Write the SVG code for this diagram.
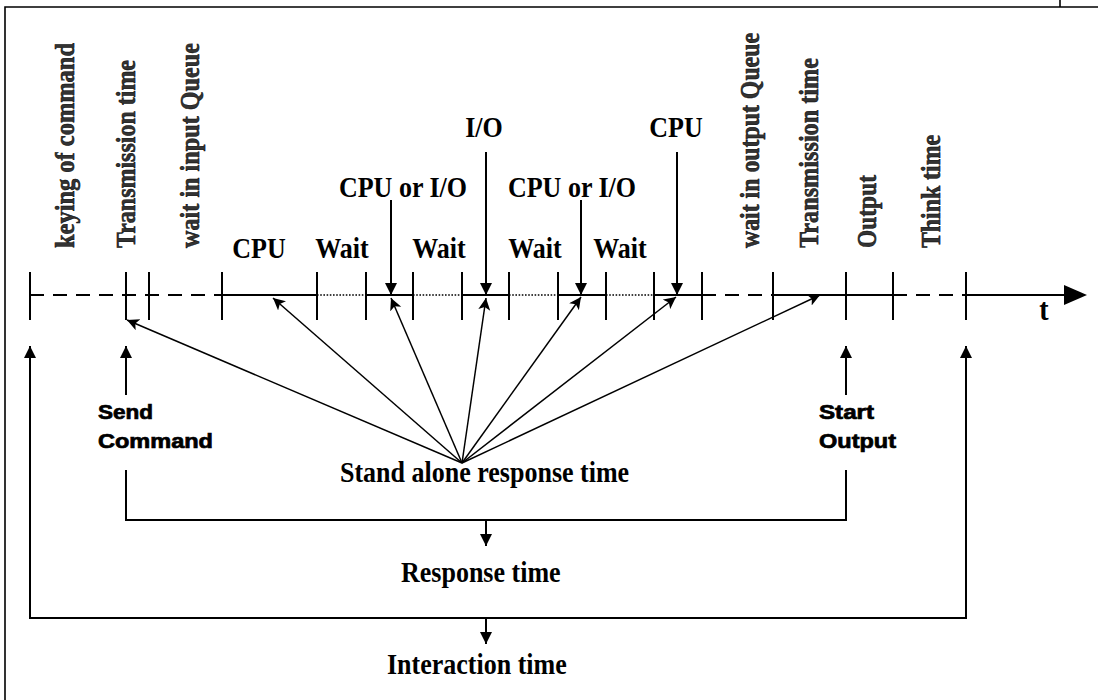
<svg xmlns="http://www.w3.org/2000/svg" width="1098" height="700" viewBox="0 0 1098 700">
<defs>
<style>
.frame{fill:none;stroke:#000;stroke-width:1.6}
.ax{stroke:#000;stroke-width:2;fill:none}
.dash{stroke:#000;stroke-width:2;stroke-dasharray:14 9;fill:none}
.dot{stroke:#000;stroke-width:1.3;stroke-dasharray:1.6 1.6;fill:none}
.tick{stroke:#000;stroke-width:2}
.arr{stroke:#000;stroke-width:2;fill:none;marker-end:url(#ah)}
.fan{stroke:#000;stroke-width:1.5;fill:none;marker-end:url(#fh)}
.br{stroke:#000;stroke-width:2;fill:none}
.lbl{font-family:"Liberation Serif","Times New Roman",serif;font-weight:bold;font-size:26px;fill:#000}
.rot{font-family:"Liberation Serif","Times New Roman",serif;font-weight:bold;font-size:24px;fill:#333;stroke:#000;stroke-width:0.45}
.sans{font-family:"Liberation Sans",Arial,sans-serif;font-weight:bold;font-size:20px;fill:#000;stroke:#000;stroke-width:0.7}
</style>
<marker id="ah" markerUnits="userSpaceOnUse" markerWidth="13" markerHeight="13" refX="12" refY="6" orient="auto">
<path d="M0,0 L12,6 L0,12 z" fill="#000"/>
</marker>
<marker id="fh" markerUnits="userSpaceOnUse" markerWidth="13" markerHeight="13" refX="12" refY="6" orient="auto">
<path d="M0,0 L12,6 L0,12 L3,6 z" fill="#000"/>
</marker>
</defs>
<rect width="1098" height="700" fill="#fff"/>
<g id="frame">
<path class="frame" d="M5,700 V7 H1098"/>
<line class="frame" x1="1060" y1="0" x2="1060" y2="7"/>
</g>
<g id="timeline">
<line class="dash" x1="30" y1="295" x2="222" y2="295"/>
<line class="ax" x1="222" y1="295" x2="317" y2="295"/>
<line class="dot" x1="317" y1="295" x2="366" y2="295"/>
<line class="ax" x1="366" y1="295" x2="413" y2="295"/>
<line class="dot" x1="413" y1="295" x2="462" y2="295"/>
<line class="ax" x1="462" y1="295" x2="509" y2="295"/>
<line class="dot" x1="509" y1="295" x2="558" y2="295"/>
<line class="ax" x1="558" y1="295" x2="606" y2="295"/>
<line class="dot" x1="606" y1="295" x2="654" y2="295"/>
<line class="ax" x1="654" y1="295" x2="702" y2="295"/>
<line class="dash" x1="702" y1="295" x2="773" y2="295"/>
<line class="ax" x1="773" y1="295" x2="893" y2="295"/>
<line class="dash" x1="893" y1="295" x2="966" y2="295"/>
<line class="ax" x1="966" y1="295" x2="1066" y2="295"/>
<polygon points="1064,285 1087,295 1064,305" fill="#000"/>
<g class="tick">
<line x1="30" y1="272" x2="30" y2="320"/>
<line x1="126" y1="272" x2="126" y2="320"/>
<line x1="149" y1="272" x2="149" y2="320"/>
<line x1="222" y1="272" x2="222" y2="320"/>
<line x1="317" y1="272" x2="317" y2="320"/>
<line x1="366" y1="272" x2="366" y2="320"/>
<line x1="413" y1="272" x2="413" y2="320"/>
<line x1="462" y1="272" x2="462" y2="320"/>
<line x1="509" y1="272" x2="509" y2="320"/>
<line x1="558" y1="272" x2="558" y2="320"/>
<line x1="606" y1="272" x2="606" y2="320"/>
<line x1="654" y1="272" x2="654" y2="320"/>
<line x1="702" y1="272" x2="702" y2="320"/>
<line x1="773" y1="272" x2="773" y2="320"/>
<line x1="846" y1="272" x2="846" y2="320"/>
<line x1="893" y1="272" x2="893" y2="320"/>
<line x1="966" y1="272" x2="966" y2="320"/>
</g>
<text class="lbl" transform="translate(1044,320) scale(1,1.1)" text-anchor="middle" style="font-size:28px">t</text>
</g>
<g id="phase-keying"><text class="rot" transform="translate(74,248) rotate(-90) scale(1,1.17)" textLength="205" lengthAdjust="spacingAndGlyphs">keying of command</text></g>
<g id="phase-transmission-in"><text class="rot" transform="translate(135,248) rotate(-90) scale(1,1.17)" textLength="188" lengthAdjust="spacingAndGlyphs">Transmission time</text></g>
<g id="phase-input-queue"><text class="rot" transform="translate(199,248) rotate(-90) scale(1,1.17)" textLength="205" lengthAdjust="spacingAndGlyphs">wait in input Queue</text></g>
<g id="phase-output-queue"><text class="rot" transform="translate(759,248) rotate(-90) scale(1,1.17)" textLength="215" lengthAdjust="spacingAndGlyphs">wait in output Queue</text></g>
<g id="phase-transmission-out"><text class="rot" transform="translate(818,248) rotate(-90) scale(1,1.17)" textLength="190" lengthAdjust="spacingAndGlyphs">Transmission time</text></g>
<g id="phase-output"><text class="rot" transform="translate(876,248) rotate(-90) scale(1,1.17)" textLength="73" lengthAdjust="spacingAndGlyphs">Output</text></g>
<g id="phase-think"><text class="rot" transform="translate(940,248) rotate(-90) scale(1,1.17)" textLength="113" lengthAdjust="spacingAndGlyphs">Think time</text></g>
<g id="seg-cpu1"><text class="lbl" transform="translate(259,258) scale(1,1.1)" text-anchor="middle">CPU</text></g>
<g id="seg-wait1"><text class="lbl" transform="translate(342,258) scale(1,1.1)" text-anchor="middle">Wait</text></g>
<g id="seg-wait2"><text class="lbl" transform="translate(439,258) scale(1,1.1)" text-anchor="middle">Wait</text></g>
<g id="seg-wait3"><text class="lbl" transform="translate(535,258) scale(1,1.1)" text-anchor="middle">Wait</text></g>
<g id="seg-wait4"><text class="lbl" transform="translate(620,258) scale(1,1.1)" text-anchor="middle">Wait</text></g>
<g id="ev-cpuio1"><text class="lbl" transform="translate(403,197) scale(1,1.1)" text-anchor="middle">CPU or I/O</text></g>
<g id="ev-io"><text class="lbl" transform="translate(484,137) scale(1,1.1)" text-anchor="middle">I/O</text></g>
<g id="ev-cpuio2"><text class="lbl" transform="translate(572,197) scale(1,1.1)" text-anchor="middle">CPU or I/O</text></g>
<g id="ev-cpu2"><text class="lbl" transform="translate(676,137) scale(1,1.1)" text-anchor="middle">CPU</text></g>
<g id="send-command">
<text class="sans" x="98" y="419" textLength="55" lengthAdjust="spacingAndGlyphs">Send</text>
<text class="sans" x="98" y="448" textLength="115" lengthAdjust="spacingAndGlyphs">Command</text>
</g>
<g id="start-output">
<text class="sans" x="819" y="419" textLength="55" lengthAdjust="spacingAndGlyphs">Start</text>
<text class="sans" x="819" y="448" textLength="77" lengthAdjust="spacingAndGlyphs">Output</text>
</g>
<g id="stand-alone"><text class="lbl" transform="translate(340,482) scale(1,1.1)">Stand alone response time</text></g>
<g id="response-time"><text class="lbl" transform="translate(401,582) scale(1,1.1)">Response time</text></g>
<g id="interaction-time"><text class="lbl" transform="translate(387,674) scale(1,1.1)">Interaction time</text></g>
<g id="connectors">
<line class="arr" x1="391" y1="200" x2="391" y2="295"/>
<line class="arr" x1="486" y1="152" x2="486" y2="295"/>
<line class="arr" x1="581" y1="200" x2="581" y2="295"/>
<line class="arr" x1="677" y1="152" x2="677" y2="295"/>
<line class="fan" x1="462" y1="463" x2="127" y2="320"/>
<line class="fan" x1="462" y1="463" x2="273" y2="298"/>
<line class="fan" x1="462" y1="463" x2="391" y2="298"/>
<line class="fan" x1="462" y1="463" x2="486" y2="298"/>
<line class="fan" x1="462" y1="463" x2="581" y2="297"/>
<line class="fan" x1="462" y1="463" x2="676" y2="297"/>
<line class="fan" x1="462" y1="463" x2="820" y2="295"/>
<line class="arr" x1="126" y1="395" x2="126" y2="346"/>
<line class="arr" x1="846" y1="395" x2="846" y2="346"/>
<path class="br" d="M126,470 V520 H846 V470"/>
<line class="arr" x1="486" y1="520" x2="486" y2="546"/>
<line class="arr" x1="30" y1="618" x2="30" y2="346"/>
<line class="arr" x1="966" y1="618" x2="966" y2="346"/>
<line class="br" x1="29" y1="618" x2="967" y2="618"/>
<line class="arr" x1="486" y1="618" x2="486" y2="644"/>
</g>
</svg>
